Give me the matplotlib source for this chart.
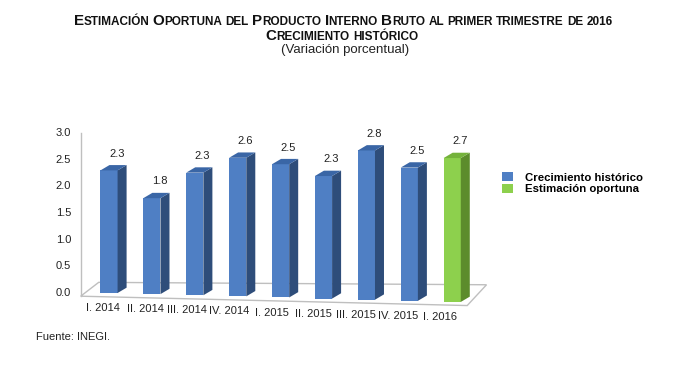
import numpy as np
import matplotlib.pyplot as plt
from matplotlib.patches import Polygon, Patch
from matplotlib.font_manager import FontProperties

plt.rcParams['font.family'] = ['Liberation Sans', 'DejaVu Sans']

# datos
periodos = ['I. 2014', 'II. 2014', 'III. 2014', 'IV. 2014', 'I. 2015',
            'II. 2015', 'III. 2015', 'IV. 2015', 'I. 2016']
valores = [2.3, 1.8, 2.3, 2.6, 2.5, 2.3, 2.8, 2.5, 2.7]
es_estimacion = [False] * 8 + [True]
yticks = [0.0, 0.5, 1.0, 1.5, 2.0, 2.5, 3.0]

titulo1 = 'Estimación Oportuna del Producto Interno Bruto al primer trimestre de 2016'
titulo2 = 'Crecimiento histórico'
subtitulo = '(Variación porcentual)'

# colores (frente, lado, tapa)
azul = ('#4F7FC4', '#2E4D7A', '#3A66A6')
verde = ('#8DD04D', '#5C8C2C', '#74B23B')

ancho = 0.40     # ancho frontal de la barra
dx, dy = 0.21, 0.10   # profundidad
caida = 0.021    # inclinacion del piso por barra

fig = plt.figure(figsize=(7, 3.7), dpi=100)
# px -> datos: x = 109 + 42.9*i ; y = 293 - 53.3*v
ax = fig.add_axes([70 / 700, 50 / 370, 430 / 700, 200 / 370])
ax.set_xlim((70 - 109) / 42.9, (500 - 109) / 42.9)
ax.set_ylim((293 - 320) / 53.3, (293 - 120) / 53.3)

n = len(valores)
x = np.arange(n)
base = -caida * x

# piso
x0, x1 = -0.66, n - 1 + 0.35
piso = [(x0, -0.06), (x1, -caida * x1 - 0.06),
        (x1 + 0.45, -caida * x1 + 0.33), (x0 + 0.42, 0.20)]
ax.add_patch(Polygon(piso, closed=True, facecolor='white', edgecolor='#BFBFBF',
                     lw=1.0, zorder=1))
# eje vertical
ax.plot([x0, x0], [-0.06, 3.0], color='#BFBFBF', lw=1.0, zorder=1)

for i, v in enumerate(valores):
    fr, la, ta = verde if es_estimacion[i] else azul
    xl = i - ancho / 2
    xr = i + ancho / 2
    b = base[i]
    t = b + v
    ax.bar(i, v, width=ancho, bottom=b, color=fr, edgecolor='none', zorder=3)
    ax.add_patch(Polygon([(xr, b), (xr + dx, b + dy), (xr + dx, t + dy), (xr, t)],
                         closed=True, facecolor=la, edgecolor='none', zorder=3))
    ax.add_patch(Polygon([(xl, t), (xr, t), (xr + dx, t + dy), (xl + dx, t + dy)],
                         closed=True, facecolor=ta, edgecolor='none', zorder=3))
    ax.text(i + 0.18, t + dy + 0.12, f'{v:.1f}', ha='center', va='bottom',
            fontsize=8, color='#222222')
    ax.text(i * 0.982 - 0.14, b - 0.19, periodos[i], ha='center', va='top',
            fontsize=8, color='#222222')

for yt in yticks:
    ax.text(x0 - 0.22, yt, f'{yt:.1f}', ha='right', va='center', fontsize=8,
            color='#222222')

ax.axis('off')

# leyenda
handles = [Patch(facecolor=azul[0], edgecolor='none', label='Crecimiento histórico'),
           Patch(facecolor=verde[0], edgecolor='none', label='Estimación oportuna')]
fig.legend(handles=handles, loc='upper left', bbox_to_anchor=(502 / 700, 1 - 172 / 370),
           frameon=False, prop={'weight': 'bold', 'size': 8.2},
           handlelength=1.0, handleheight=0.9, handletextpad=1.0, labelspacing=0.1,
           borderaxespad=0, borderpad=0)

# titulo en versalitas (simuladas)
renderer = fig.canvas.get_renderer()


def avance(s, size):
    # ancho de avance (no de tinta) en pixeles
    prop = FontProperties(family='Liberation Sans', weight='bold', size=size)
    w1 = renderer.get_text_width_height_descent('|' + s + '|', prop, ismath=False)[0]
    w0 = renderer.get_text_width_height_descent('||', prop, ismath=False)[0]
    return w1 - w0


def partes_versalitas(texto):
    partes = []
    for k, palabra in enumerate(texto.split(' ')):
        if k > 0:
            partes.append((' ', 'c'))
        if palabra[0].isupper():
            partes.append((palabra[0], 'g'))
            if len(palabra) > 1:
                partes.append((palabra[1:].upper(), 'c'))
        else:
            partes.append((palabra.upper(), 'c'))
    return partes


def ancho_linea(partes, grande, chica):
    return sum(avance(s, grande if t == 'g' else chica) for s, t in partes)


def versalitas(texto, y_px, cx_px, grande, chica):
    partes = partes_versalitas(texto)
    total = ancho_linea(partes, grande, chica)
    pos = cx_px - total / 2
    for s, t in partes:
        tam = grande if t == 'g' else chica
        if s.strip():
            fig.text(pos / 700, 1 - y_px / 370, s, fontsize=tam, weight='bold',
                     ha='left', va='baseline', color='#111111')
        pos += avance(s, tam)


# tamano ajustado para que la primera linea mida ~545 px
p1 = partes_versalitas(titulo1)
g0 = 10.0
escala = 545 / ancho_linea(p1, g0, g0 * 0.78)
grande = g0 * escala
chica = grande * 0.78
versalitas(titulo1, 25, 343, grande, chica)
versalitas(titulo2, 40, 342, grande, chica)
fig.text(345 / 700, 1 - 53 / 370, subtitulo, ha='center', va='baseline',
         fontsize=9.5, color='#222222')

fig.text(36 / 700, 1 - 340 / 370, 'Fuente: INEGI.', ha='left', va='baseline',
         fontsize=8, color='#222222')

fig.savefig('out.png', dpi=100)
